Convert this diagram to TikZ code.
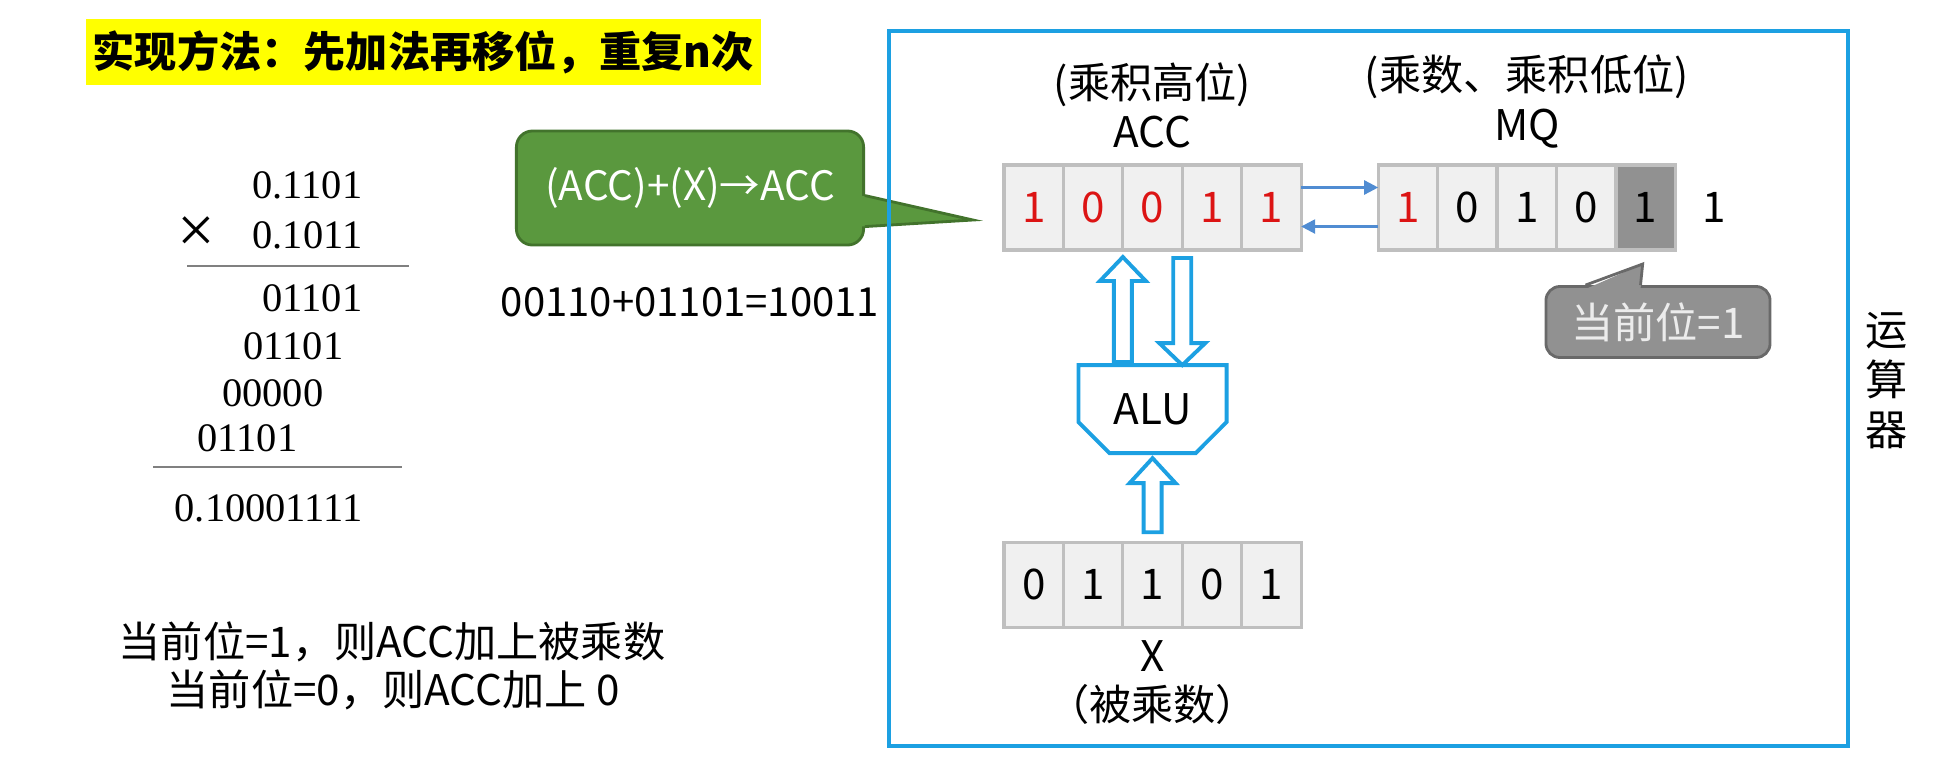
\documentclass[tikz,border=0pt]{standalone}
\usepackage{fontspec}
\setmainfont{Liberation Serif}
\newfontfamily\cjk{Noto Sans CJK SC}
\usetikzlibrary{positioning,calc,arrows.meta}

\definecolor{frameblue}{RGB}{28,160,226}
\definecolor{shiftblue}{RGB}{80,140,210}
\definecolor{accred}{RGB}{220,20,20}
\definecolor{saygreen}{RGB}{90,152,62}
\definecolor{saydark}{RGB}{66,115,44}
\definecolor{curgray}{RGB}{145,145,145}
\definecolor{curdark}{RGB}{105,105,105}
\definecolor{hiyellow}{RGB}{255,255,0}

% hollow bus arrow: tail, tip, head length (+ points up, - points down)
\newcommand{\fatarrow}[3]{%
  \draw[fat arrow] ($(#1)+(-9,0)$) -- ($(#2)+(-9,#3)$) -- ($(#2)+(-23,#3)$) -- (#2)
    -- ($(#2)+(23,#3)$) -- ($(#2)+(9,#3)$) -- ($(#1)+(9,0)$) -- cycle;}

\begin{document}
\begin{tikzpicture}[x=0.01cm,y=-0.01cm,
  cell/.style={draw=gray!50,fill=gray!12,line width=0.9pt,minimum width=0.594cm,
    minimum height=0.85cm,inner sep=0pt,outer sep=0pt,font=\cjk\fontsize{12}{14}\selectfont},
  red cell/.style={cell,text=accred},
  cur cell/.style={cell,fill=curgray},
  plain text/.style={inner sep=0pt,font=\cjk\fontsize{12}{14}\selectfont},
  sum line/.style={inner sep=0pt,anchor=east,font=\fontsize{11.5}{13}\selectfont},
  fat arrow/.style={draw=frameblue,line width=1.1pt,fill=white},
  shift arrow/.style={-{Triangle[length=4pt,width=4pt]},draw=shiftblue,line width=0.7pt}]

  \useasboundingbox (0,0) rectangle (1960,763);

  % title
  \node[fill=hiyellow,inner xsep=2pt,minimum height=0.53cm,anchor=west,
    font=\cjk\bfseries\fontsize{12}{15}\selectfont] (title) at (85,52) {实现方法：先加法再移位，重复n次};

  % hand multiplication
  \node[sum line] (mcand) at (363,185) {0.1101};
  \node[sum line] (mplier) at (363,235) {0.1011};
  \node[sum line,font=\fontsize{19}{21}\selectfont] (times) at (216,235) {×};
  \draw[gray,line width=0.6pt] (187,266) -- (409,266);
  \node[sum line] (pp1) at (363,298) {01101};
  \node[sum line] (pp2) at (344,346) {01101};
  \node[sum line] (pp3) at (324,393) {00000};
  \node[sum line] (pp4) at (298,438) {01101};
  \draw[gray,line width=0.6pt] (153,467) -- (402,467);
  \node[sum line] (prod) at (363,508) {0.10001111};

  \node[plain text,anchor=west] (rule1) at (118,642) {当前位=1，则ACC加上被乘数};
  \node[plain text,anchor=west] (rule0) at (166,690) {当前位=0，则ACC加上 0};

  % green callout
  \node[plain text,fill=saygreen,draw=saydark,line width=0.8pt,rounded corners=0.16cm,
    minimum width=3.47cm,minimum height=1.14cm,text=white,
    font=\cjk\fontsize{11.5}{14}\selectfont] (say) at (690,188) {(ACC)+(X)→ACC};
  \coordinate (say tip) at (973,220);
  \fill[saygreen] ($(say.north east)+(-4,66)$) -- (say tip) -- ($(say.north east)+(-4,97)$) -- cycle;
  \draw[saydark,line width=0.8pt] ($(say.north east)+(0,66)$) -- (say tip) -- ($(say.north east)+(0,97)$);
  \node[plain text,font=\cjk\fontsize{11.4}{14}\selectfont] (sum) at (690,302) {00110+01101=10011};

  % arithmetic unit
  \node[draw=frameblue,line width=1.2pt,minimum width=9.59cm,minimum height=7.15cm] (unit) at (1368.5,388.5) {};
  \node[plain text,align=center,font=\cjk\fontsize{12}{14.2}\selectfont] (unit name) at (1887,381) {运\\算\\器};

  % ACC
  \node[red cell] (acc1) at (1033.7,207.5) {1};
  \node[red cell] (acc2) [right=0pt of acc1] {0};
  \node[red cell] (acc3) [right=0pt of acc2] {0};
  \node[red cell] (acc4) [right=0pt of acc3] {1};
  \node[red cell] (acc5) [right=0pt of acc4] {1};
  \node[plain text] (acc name) [above=0.165cm of acc3] {ACC};
  \node[plain text] (acc note) [above=0.08cm of acc name] {(乘积高位)};

  % MQ
  \node[red cell] (mq1) [right=0.77cm of acc5] {1};
  \node[cell] (mq2) [right=0pt of mq1] {0};
  \node[cell] (mq3) [right=0pt of mq2] {1};
  \node[cell] (mq4) [right=0pt of mq3] {0};
  \node[cur cell] (mq5) [right=0pt of mq4] {1};
  \node[plain text] (out bit) [right=0.26cm of mq5] {1};
  \node[plain text] (mq name) [above=0.165cm of mq3] {MQ};
  \node[plain text] (mq note) [above=0.08cm of mq name] {(乘数、乘积低位)};

  \draw[shift arrow] ([yshift=0.2cm]acc5.east) -- ([yshift=0.2cm]mq1.west);
  \draw[shift arrow] ([yshift=-0.19cm]mq1.west) -- ([yshift=-0.19cm]acc5.east);

  % ALU
  \node[plain text,minimum width=1.48cm,minimum height=0.88cm,outer sep=0pt] (alu) [below=1.15cm of acc3] {ALU};
  \draw[frameblue,line width=1.1pt] (alu.north west) -- (alu.north east) -- ($(alu.north east)+(0,57)$)
    -- ($(alu.south east)+(-31,0)$) -- ($(alu.south west)+(31,0)$) -- ($(alu.north west)+(0,57)$) -- cycle;

  % X
  \node[cell] (x3) [below=0.89cm of alu] {1};
  \node[cell] (x2) [left=0pt of x3] {1};
  \node[cell] (x1) [left=0pt of x2] {0};
  \node[cell] (x4) [right=0pt of x3] {0};
  \node[cell] (x5) [right=0pt of x4] {1};
  \node[plain text] (x name) [below=0.125cm of x3] {X};
  \node[plain text] (x note) [below=0.12cm of x name] {（被乘数）};

  % data paths
  \coordinate (up tip) at ($(acc2.south east)+(0,7)$);
  \coordinate (up tail) at ($(up tip |- alu.north)+(0,-3)$);
  \coordinate (down tail) at ($(acc3.south east)+(0,8)$);
  \coordinate (down tip) at (down tail |- alu.north);
  \coordinate (in tail) at ($(x3.north)+(0,-10)$);
  \coordinate (in tip) at ($(alu.south)+(0,5)$);
  \fatarrow{up tail}{up tip}{24}
  \fatarrow{down tail}{down tip}{-22}
  \fatarrow{in tail}{in tip}{25}

  % current bit callout
  \node[plain text,fill=curgray,draw=curdark,line width=0.8pt,rounded corners=0.14cm,
    minimum width=2.24cm,minimum height=0.71cm,text=gray!15] (cur) at (1658,322) {当前位=1};
  \coordinate (cur tip) at ($(mq5.south)+(-3,14)$);
  \fill[curgray] ($(cur.north west)+(41,4)$) -- (cur tip) -- ($(cur.north west)+(96,4)$) -- cycle;
  \draw[curdark,line width=0.8pt] ($(cur.north west)+(41,0)$) -- (cur tip) -- ($(cur.north west)+(96,0)$);
\end{tikzpicture}
\end{document}
